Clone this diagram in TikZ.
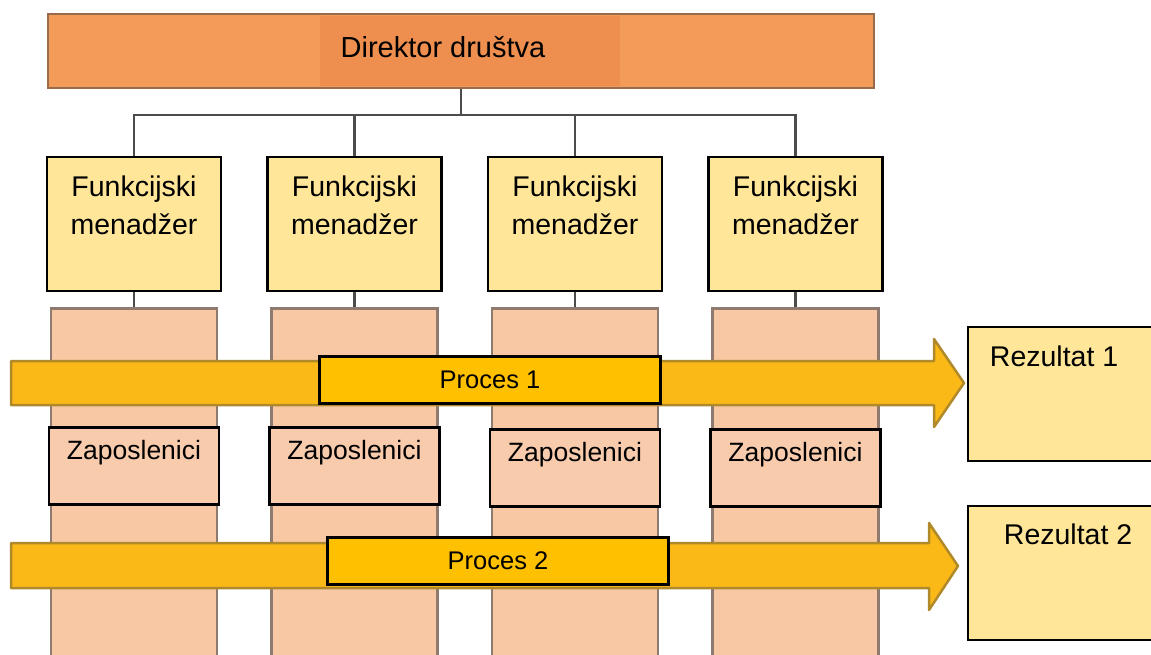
\documentclass[tikz,border=0pt]{standalone}
\usepackage{fontspec}
\setmainfont{Liberation Sans}
\usetikzlibrary{positioning}

\definecolor{dirorange}{HTML}{F39C5A}
\definecolor{dirmid}{HTML}{EE8F50}
\definecolor{dirline}{HTML}{9A6B4B}
\definecolor{mgrfill}{HTML}{FFE699}
\definecolor{colfill}{HTML}{F8C8A4}
\definecolor{colline}{HTML}{8E7A6E}
\definecolor{arrowfill}{HTML}{FBB917}
\definecolor{arrowline}{HTML}{B08A2A}
\definecolor{procfill}{HTML}{FFC000}
\definecolor{empfill}{HTML}{F8CBAD}

\begin{document}
\begin{tikzpicture}[x=1pt,y=-1pt,node distance=44pt,
        dir box/.style={rectangle,draw=dirline,line width=2.5pt,fill=dirorange,minimum width=826pt,minimum height=74pt,inner sep=0pt},
        mgr box/.style={rectangle,draw,line width=2.5pt,fill=mgrfill,minimum width=174pt,minimum height=134pt,inner sep=0pt},
        mgr text/.style={anchor=north,yshift=-20pt,inner sep=0pt,align=center,font=\fontsize{28.5}{38}\selectfont},
        col box/.style={rectangle,draw=colline,line width=2.5pt,fill=colfill,minimum width=166pt,minimum height=360pt,inner sep=0pt},
        emp box/.style={rectangle,draw,line width=2.5pt,fill=empfill,minimum width=170pt,minimum height=77pt,inner sep=0pt},
        emp text/.style={anchor=north,yshift=-14pt,inner sep=0pt,font=\fontsize{26.5}{30}\selectfont},
        proc arrow/.style={fill=arrowfill,draw=arrowline,line width=2.5pt,line join=round},
        proc box/.style={rectangle,draw,line width=3pt,fill=procfill,minimum width=341pt,minimum height=47pt,inner sep=0pt,font=\fontsize{25.5}{30}\selectfont},
        res box/.style={rectangle,draw,line width=2.5pt,fill=mgrfill,minimum width=194pt,minimum height=134pt,inner sep=0pt},
        res text/.style={anchor=north west,inner sep=0pt,font=\fontsize{28.5}{32}\selectfont},
        conn/.style={draw=black!70,line width=2.5pt}]
        \useasboundingbox (0,0) rectangle (1151,655);

        % top
        \node[dir box] (dir) at (461,51) {};
        \fill[dirmid] (320,16) rectangle (620,86);
        \node[inner sep=0pt,font=\fontsize{29}{32}\selectfont] (dirlabel) at (443,47) {Direktor društva};

        % managers
        \node[mgr box,label={[mgr text]north:{Funkcijski\\menadžer}}] (m1) at (134,224) {};
        \node[mgr box,label={[mgr text]north:{Funkcijski\\menadžer}}] (m2)[right=of m1] {};
        \node[mgr box,label={[mgr text]north:{Funkcijski\\menadžer}}] (m3)[right=of m2] {};
        \node[mgr box,label={[mgr text]north:{Funkcijski\\menadžer}}] (m4)[right=of m3] {};

        \coordinate (bus) at (461,115);
        \draw[conn] (dir.south) -- (bus);
        \draw[conn] (m1.north) |- (bus);
        \draw[conn] (m2.north) |- (bus);
        \draw[conn] (m3.north) |- (bus);
        \draw[conn] (m4.north) |- (bus);

        % columns
        \node[col box] (c1)[below=15pt of m1] {};
        \node[col box] (c2)[below=15pt of m2] {};
        \node[col box] (c3)[below=15pt of m3] {};
        \node[col box] (c4)[below=15pt of m4] {};

        \path[conn]
        (m1) edge (c1)
        (m2) edge (c2)
        (m3) edge (c3)
        (m4) edge (c4);

        % processes
        \filldraw[proc arrow] (11,361) -- (934,361) -- (934,339) -- (964,383) -- (934,427) -- (934,405) -- (11,405) -- cycle;
        \filldraw[proc arrow] (11,543) -- (929,543) -- (929,523) -- (958,566) -- (929,610) -- (929,588) -- (11,588) -- cycle;
        \node[proc box] (p1) at (490,380) {Proces 1};
        \node[proc box] (p2) at (498,561) {Proces 2};

        % employees
        \coordinate (erow) at (0,466);
        \node[emp box,label={[emp text]north:Zaposlenici}] (e1) at (c1 |- erow) {};
        \node[emp box,label={[emp text]north:Zaposlenici}] (e2) at (c2 |- erow) {};
        \node[emp box,label={[emp text]north:Zaposlenici}] (e3) at ([yshift=-2pt]c3 |- erow) {};
        \node[emp box,label={[emp text]north:Zaposlenici}] (e4) at ([yshift=-2pt]c4 |- erow) {};

        % results
        \node[res box,label={[res text,xshift=23pt,yshift=-20pt]north west:Rezultat 1}] (r1) at (1065,394) {};
        \node[res box,label={[res text,xshift=37pt,yshift=-19pt]north west:Rezultat 2}] (r2) at (1065,573) {};
    \end{tikzpicture}
\end{document}
